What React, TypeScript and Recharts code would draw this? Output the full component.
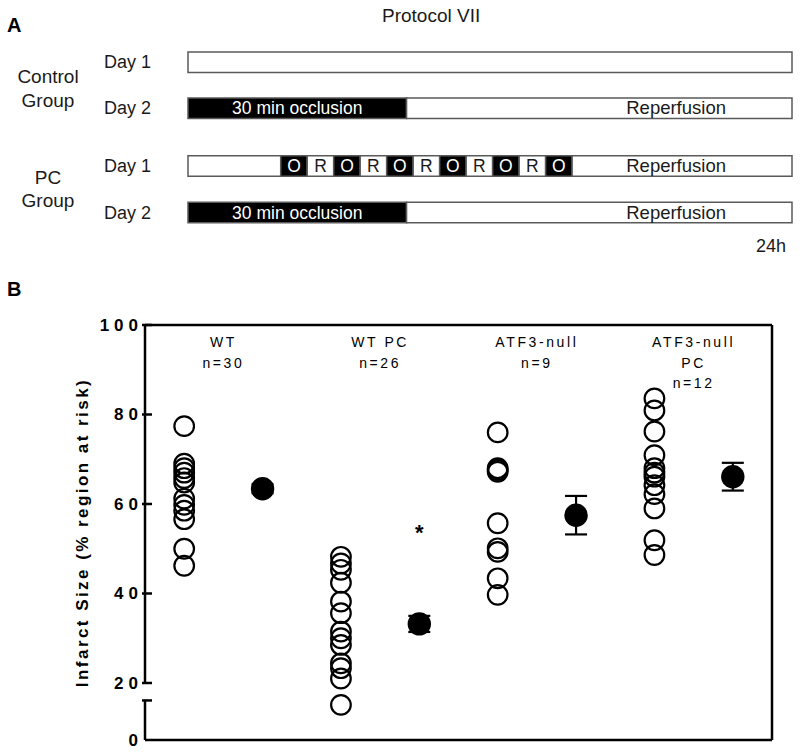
import React from "react";
import {
  BarChart,
  Bar,
  Cell,
  LabelList,
  XAxis,
  YAxis,
  ScatterChart,
  Scatter,
  ErrorBar,
  ReferenceLine
} from "recharts";

const FONT = "'Liberation Sans', Arial, Helvetica, sans-serif";

// ---- panel A: protocol timelines (schematic segment widths) ----
const dayLabels = ["Day 1", "Day 2"];
const controlDay1 = [22.8];
const controlDay1Text = [""];
const controlDay2 = [8.25, 14.55];
const controlDay2Text = ["30 min occlusion", "Reperfusion"];
const pcDay1 = [3.5, 1, 1, 1, 1, 1, 1, 1, 1, 1, 1, 1, 8.3];
const pcDay1Text = ["", "O", "R", "O", "R", "O", "R", "O", "R", "O", "R", "O", "Reperfusion"];
const pcDay2 = [8.25, 14.55];
const pcDay2Text = ["30 min occlusion", "Reperfusion"];
const endLabel = "24h";

// ---- panel B: infarct size ----
const groupLines = [["WT"], ["WT PC"], ["ATF3-null"], ["ATF3-null", "PC"]];
const groupN = [30, 26, 9, 12];
const wt = [77.4, 69.0, 68.0, 67.0, 65.8, 64.8, 61.2, 59.8, 58.5, 56.6, 50.0, 46.2];
const wtPc = [48.2, 46.7, 45.3, 42.4, 38.2, 35.6, 31.5, 30.0, 28.5, 24.4, 23.3, 21.0, 15.1];
const atf3 = [76.0, 68.0, 67.6, 67.2, 55.7, 50.1, 49.3, 43.4, 39.7];
const atf3Pc = [83.6, 80.9, 76.2, 70.9, 68.0, 67.0, 66.1, 64.2, 62.2, 59.0, 51.9, 48.6];
const means = [63.4, 33.2, 57.5, 66.1];
const sems = [1.0, 1.8, 4.3, 3.1];
const sigGroup = 1;
const sigY = 54.9;
const yTicks = [20, 40, 60, 80, 100];
const axisFloor = 7.26; // drawn as "0" below the axis break
const breakTop = 16.1;

const isOcclusion = (t: string) => t === "O" || t.indexOf("occlusion") >= 0;

function toRows(segs: number[][], texts: string[][]) {
  return segs.map((s, i) => {
    const row: any = { day: dayLabels[i] };
    s.forEach((v, k) => {
      row["s" + k] = v;
      row["t" + k] = texts[i][k];
    });
    return row;
  });
}

const segmentLabel = (p: any) => {
  const txt = p.value;
  if (!txt) return null;
  const vb = p.viewBox || p;
  const x = Number(vb.x);
  const y = Number(vb.y);
  const w = Number(vb.width);
  const h = Number(vb.height);
  const rep = txt === "Reperfusion";
  return (
    <text
      x={rep ? x + w - 66 : x + w / 2}
      y={y + h / 2 + 6}
      textAnchor={rep ? "end" : "middle"}
      fill={isOcclusion(txt) ? "#fff" : "#1a1a1a"}
      fontSize={rep ? 18.5 : 17.5}
      fontFamily={FONT}
    >
      {txt}
    </text>
  );
};

interface TimelineProps {
  segs: number[][];
  texts: string[][];
  group: string[];
  groupDy: number[];
  top: number;
  height: number;
  mTop: number;
  mBottom: number;
  showEnd: boolean;
}

function Timeline({ segs, texts, group, groupDy, top, height, mTop, mBottom, showEnd }: TimelineProps) {
  const data = toRows(segs, texts);
  const n = Math.max(...segs.map((s) => s.length));
  const total = segs[0].reduce((a, b) => a + b, 0);
  const plotH = height - mTop - mBottom - (showEnd ? 20 : 0);
  const center = mTop + plotH / 2;

  return (
    <div style={{ position: "absolute", left: 0, top, width: 800, height }}>
      <BarChart
        width={800}
        height={height}
        data={data}
        layout="vertical"
        barSize={20.5}
        margin={{ top: mTop, right: 8, bottom: mBottom, left: 104 }}
      >
        <XAxis
          type="number"
          domain={[0, total]}
          ticks={[total]}
          hide={!showEnd}
          height={20}
          axisLine={false}
          tickLine={false}
          tickSize={0}
          tickMargin={0}
          tick={(p: any) => (
            <text x={p.x} y={p.y + 16} textAnchor="end" fontSize={18} fontFamily={FONT} fill="#1a1a1a">
              {endLabel}
            </text>
          )}
        />
        <YAxis
          type="category"
          dataKey="day"
          width={84}
          axisLine={false}
          tickLine={false}
          tickSize={0}
          tickMargin={0}
          tick={(p: any) => (
            <text x={p.x - 84} y={p.y + 6} fontSize={18} fontFamily={FONT} fill="#1a1a1a">
              {p.payload.value}
            </text>
          )}
          label={() => (
            <g>
              {group.map((line, i) => (
                <text
                  key={line}
                  x={48}
                  y={center + groupDy[i]}
                  textAnchor="middle"
                  fontSize={19}
                  fontFamily={FONT}
                  fill="#1a1a1a"
                >
                  {line}
                </text>
              ))}
            </g>
          )}
        />
        {Array.from({ length: n }).map((_, k) => (
          <Bar
            key={k}
            dataKey={"s" + k}
            stackId="t"
            stroke="#5a5a5a"
            strokeWidth={1.5}
            isAnimationActive={false}
          >
            {data.map((row, i) => (
              <Cell key={i} fill={row["t" + k] && isOcclusion(row["t" + k]) ? "#000" : "#fff"} />
            ))}
            <LabelList dataKey={"t" + k} content={segmentLabel} />
          </Bar>
        ))}
      </BarChart>
    </div>
  );
}

const YTick = (p: any) => {
  const v = p.payload.value;
  const label = v === axisFloor ? "0" : v === breakTop ? "" : String(v);
  return (
    <g>
      {v !== axisFloor && (
        <line x1={p.x - 3} x2={p.x + 7} y1={p.y} y2={p.y} stroke="#000" strokeWidth={2.5} />
      )}
      {label && (
        <text
          x={p.x - 2}
          y={p.y + 6}
          textAnchor="end"
          fontSize={17}
          fontWeight="bold"
          letterSpacing={5}
          fontFamily={FONT}
          fill="#000"
        >
          {label}
        </text>
      )}
    </g>
  );
};

function InfarctChart() {
  const groups = [wt, wtPc, atf3, atf3Pc];
  const individual = groups.flatMap((vals, g) => vals.map((v) => ({ x: 2 * g + 1, y: v })));
  const meanPts = means.map((m, g) => ({ x: 2 * g + 2, y: m, sem: sems[g] }));
  const sig = [{ x: 2 * sigGroup + 2, y: sigY }];
  const heads = groupLines.map((lines, g) => ({ x: 2 * g + 1.5, y: 100, lines: [...lines, "n=" + groupN[g]] }));

  return (
    <div style={{ position: "absolute", left: 0, top: 0, width: 800, height: 756 }}>
      <ScatterChart width={800} height={756} margin={{ top: 325, right: 28, bottom: 0, left: 85 }}>
        <XAxis
          type="number"
          dataKey="x"
          domain={[0.5, 8.5]}
          height={16}
          tick={false}
          tickLine={false}
          axisLine={{ stroke: "#000", strokeWidth: 2.5 }}
        />
        <YAxis
          type="number"
          dataKey="y"
          domain={[axisFloor, 100]}
          allowDataOverflow
          ticks={[axisFloor, breakTop, ...yTicks]}
          interval={0}
          width={60}
          axisLine={false}
          tickLine={false}
          tickSize={0}
          tickMargin={0}
          tick={YTick}
          label={() => (
            <text
              transform="translate(88, 532.5) rotate(-90)"
              textAnchor="middle"
              fontSize={17}
              fontWeight="bold"
              letterSpacing={2.45}
              fontFamily={FONT}
              fill="#000"
            >
              Infarct Size (% region at risk)
            </text>
          )}
        />
        <ReferenceLine y={100} stroke="#000" strokeWidth={2.5} ifOverflow="visible" />
        <ReferenceLine x={8.5} stroke="#000" strokeWidth={2.5} ifOverflow="visible" />
        <ReferenceLine
          segment={[{ x: 0.5, y: 20 }, { x: 0.5, y: 100 }]}
          stroke="#000"
          strokeWidth={2.5}
          ifOverflow="visible"
        />
        <ReferenceLine
          segment={[{ x: 0.5, y: axisFloor }, { x: 0.5, y: breakTop }]}
          stroke="#000"
          strokeWidth={2.5}
          ifOverflow="visible"
        />
        <Scatter
          data={heads}
          isAnimationActive={false}
          shape={(p: any) => (
            <g>
              {(p.payload?.lines || p.lines || []).map((line: string, i: number) => (
                <text
                  key={i}
                  x={p.cx}
                  y={p.cy + 22 + i * 20.5}
                  textAnchor="middle"
                  fontSize={14}
                  letterSpacing={2.6}
                  fontFamily={FONT}
                  fill="#000"
                >
                  {line}
                </text>
              ))}
            </g>
          )}
        />
        <Scatter
          data={individual}
          isAnimationActive={false}
          shape={(p: any) => (
            <circle cx={p.cx} cy={p.cy} r={9.8} fill="none" stroke="#000" strokeWidth={2.2} />
          )}
        />
        <Scatter
          data={meanPts}
          isAnimationActive={false}
          shape={(p: any) => <circle cx={p.cx} cy={p.cy} r={11.7} fill="#000" />}
        >
          <ErrorBar dataKey="sem" direction="y" width={11} stroke="#000" strokeWidth={2.2} />
        </Scatter>
        <Scatter
          data={sig}
          isAnimationActive={false}
          shape={(p: any) => (
            <text x={p.cx} y={p.cy + 13} textAnchor="middle" fontSize={22} fontWeight="bold" fontFamily={FONT}>
              *
            </text>
          )}
        />
      </ScatterChart>
    </div>
  );
}

export default function App() {
  return (
    <div style={{ position: "absolute", left: 0, top: 0, width: 800, height: 756, background: "#fff", fontFamily: FONT }}>
      <svg width={800} height={300} style={{ position: "absolute", left: 0, top: 0 }}>
        <text x={7} y={32} fontSize={20} fontWeight="bold" fontFamily={FONT}>A</text>
        <text x={382} y={22} fontSize={19} fontFamily={FONT} fill="#1a1a1a">Protocol VII</text>
        <text x={7} y={296} fontSize={20} fontWeight="bold" fontFamily={FONT}>B</text>
      </svg>
      <Timeline
        segs={[controlDay1, controlDay2]}
        texts={[controlDay1Text, controlDay2Text]}
        group={["Control", "Group"]}
        groupDy={[-1.7, 21.7]}
        top={0}
        height={131}
        mTop={39}
        mBottom={0}
        showEnd={false}
      />
      <Timeline
        segs={[pcDay1, pcDay2]}
        texts={[pcDay1Text, pcDay2Text]}
        group={["PC", "Group"]}
        groupDy={[-5.7, 17.7]}
        top={100}
        height={160}
        mTop={42.75}
        mBottom={4.25}
        showEnd={true}
      />
      <InfarctChart />
    </div>
  );
}
